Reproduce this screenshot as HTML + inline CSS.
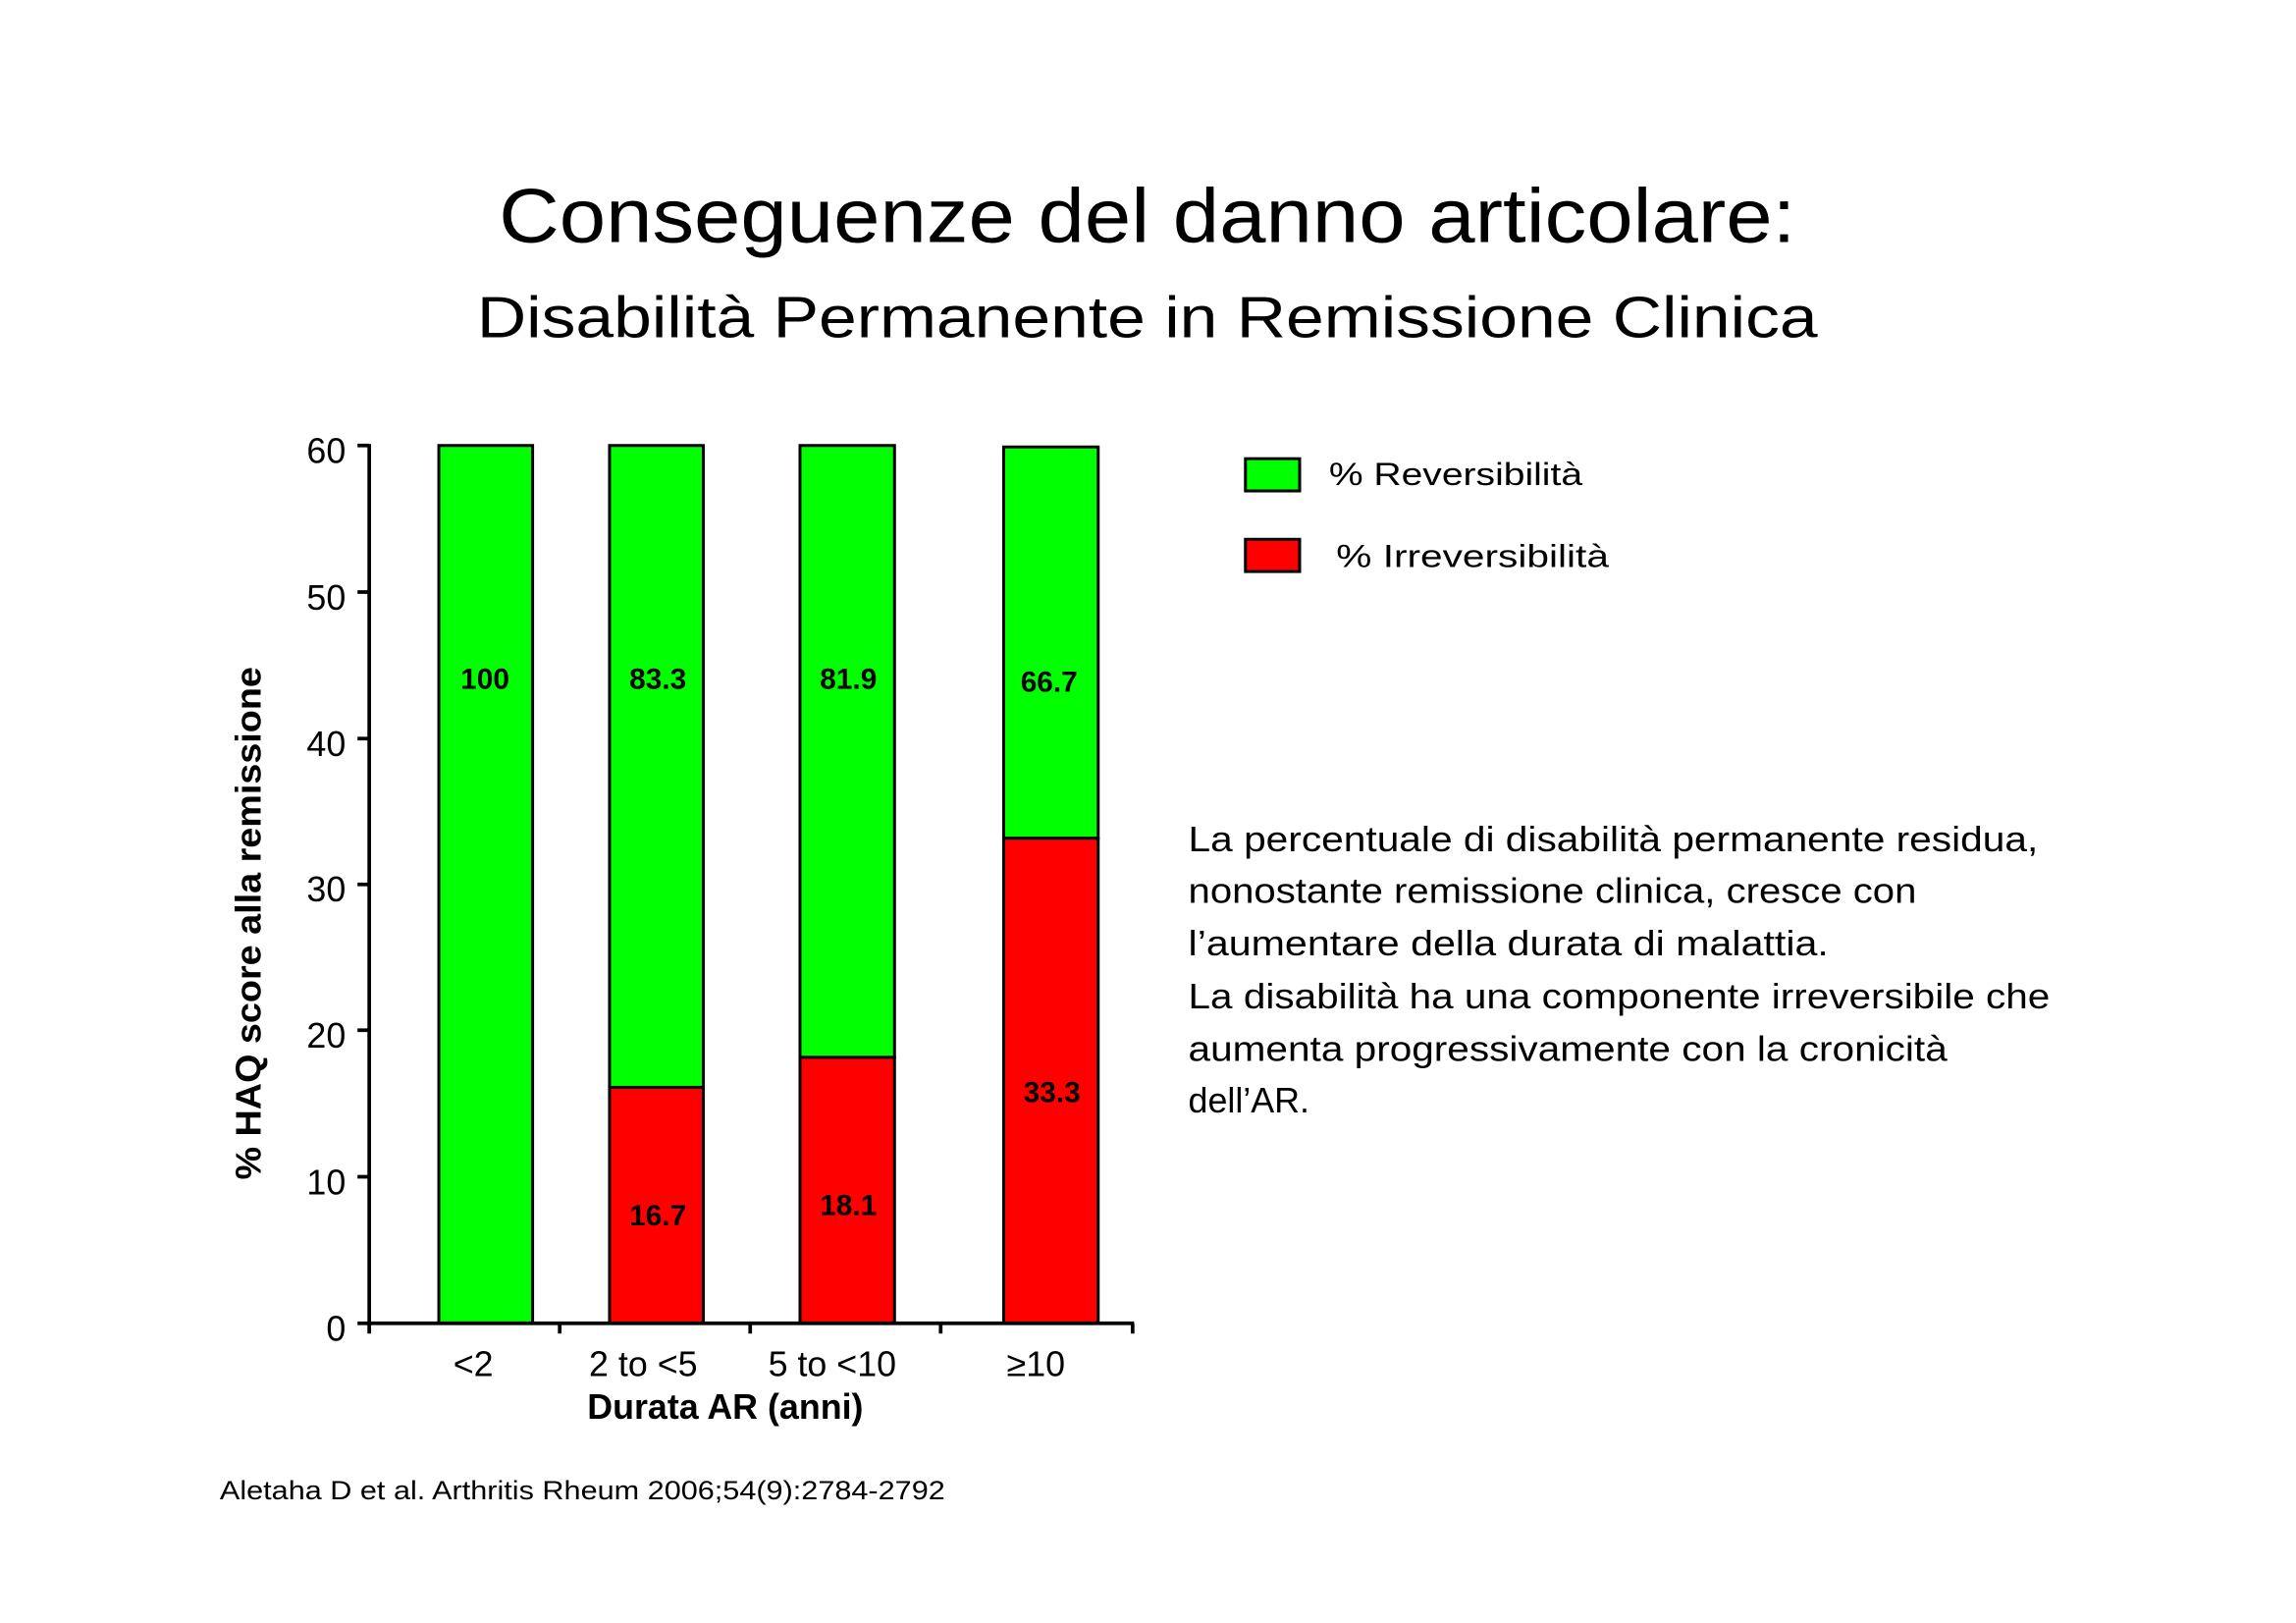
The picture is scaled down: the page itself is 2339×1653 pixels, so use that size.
<!DOCTYPE html>
<html><head><meta charset="utf-8"><style>
html,body{margin:0;padding:0;background:#fff;}
svg{display:block;font-family:"Liberation Sans",sans-serif;}
</style></head><body>
<svg width="2339" height="1653" viewBox="0 0 1567 1107.5" preserveAspectRatio="none" xmlns="http://www.w3.org/2000/svg">
<rect width="1567" height="1107.5" fill="#fff"/>
<text x="783" y="165" font-size="52" text-anchor="middle" textLength="885" lengthAdjust="spacingAndGlyphs" fill="#000">Conseguenze del danno articolare:</text>
<text x="783" y="230" font-size="40" text-anchor="middle" textLength="915" lengthAdjust="spacingAndGlyphs" fill="#000">Disabilità Permanente in Remissione Clinica</text>

<!-- bars -->
<g stroke="#000" stroke-width="2">
<rect x="299.5" y="304" width="64" height="599" fill="#00ff00"/>
<rect x="416" y="304" width="64" height="438" fill="#00ff00"/>
<rect x="416" y="742" width="64" height="161" fill="#ff0000"/>
<rect x="546" y="304" width="64.5" height="417.5" fill="#00ff00"/>
<rect x="546" y="721.5" width="64.5" height="181.5" fill="#ff0000"/>
<rect x="685" y="305" width="64.5" height="267" fill="#00ff00"/>
<rect x="685" y="572" width="64.5" height="331" fill="#ff0000"/>
</g>
<!-- axes -->
<g stroke="#000" stroke-width="2.5" fill="none">
<line x1="252" y1="303" x2="252" y2="910"/>
<line x1="251" y1="903" x2="774" y2="903"/>
<line x1="244" y1="304" x2="252" y2="304"/>
<line x1="244" y1="404" x2="252" y2="404"/>
<line x1="244" y1="504" x2="252" y2="504"/>
<line x1="244" y1="603.5" x2="252" y2="603.5"/>
<line x1="244" y1="703" x2="252" y2="703"/>
<line x1="244" y1="803" x2="252" y2="803"/>
<line x1="244" y1="903" x2="252" y2="903"/>
<line x1="382" y1="903" x2="382" y2="910"/>
<line x1="512" y1="903" x2="512" y2="910"/>
<line x1="642" y1="903" x2="642" y2="910"/>
<line x1="773" y1="903" x2="773" y2="910"/>
</g>
<g font-size="24" text-anchor="end" fill="#000">
<text x="236" y="316">60</text><text x="236" y="416">50</text><text x="236" y="516">40</text>
<text x="236" y="615">30</text><text x="236" y="715">20</text><text x="236" y="815">10</text><text x="236" y="915">0</text>
</g>
<g font-size="24" text-anchor="middle" fill="#000">
<text x="323" y="939">&lt;2</text>
<text x="439" y="939">2 to &lt;5</text>
<text x="568" y="939">5 to &lt;10</text>
<text x="707" y="939">≥10</text>
</g>
<text x="495" y="968" font-size="24" font-weight="bold" text-anchor="middle">Durata AR (anni)</text>
<text transform="translate(178,630) rotate(-90)" font-size="24" font-weight="bold" text-anchor="middle" textLength="350" lengthAdjust="spacingAndGlyphs">% HAQ score alla remissione</text>
<g font-size="20" font-weight="bold" text-anchor="middle" fill="#000">
<text x="331" y="470">100</text><text x="449" y="470">83.3</text><text x="579" y="470">81.9</text><text x="716" y="472">66.7</text>
<text x="449" y="836">16.7</text><text x="579" y="829">18.1</text><text x="718" y="752">33.3</text>
</g>
<!-- legend -->
<rect x="850" y="313" width="37" height="22" fill="#00ff00" stroke="#000" stroke-width="2"/>
<text x="907" y="331" font-size="22" textLength="173" lengthAdjust="spacingAndGlyphs">% Reversibilità</text>
<rect x="850" y="368" width="37" height="22" fill="#ff0000" stroke="#000" stroke-width="2"/>
<text x="912" y="387" font-size="22" textLength="186" lengthAdjust="spacingAndGlyphs">% Irreversibilità</text>
<!-- paragraph -->
<g font-size="24" fill="#000">
<text x="811" y="581" textLength="580" lengthAdjust="spacingAndGlyphs">La percentuale di disabilità permanente residua,</text>
<text x="811" y="616" textLength="497" lengthAdjust="spacingAndGlyphs">nonostante remissione clinica, cresce con</text>
<text x="811" y="652" textLength="437" lengthAdjust="spacingAndGlyphs">l’aumentare della durata di malattia.</text>
<text x="811" y="688" textLength="588" lengthAdjust="spacingAndGlyphs">La disabilità ha una componente irreversibile che</text>
<text x="811" y="724" textLength="518" lengthAdjust="spacingAndGlyphs">aumenta progressivamente con la cronicità</text>
<text x="811" y="759">dell’AR.</text>
</g>
<text x="150" y="1023" font-size="18" textLength="495" lengthAdjust="spacingAndGlyphs">Aletaha D et al. Arthritis Rheum 2006;54(9):2784-2792</text>
</svg>
</body></html>
